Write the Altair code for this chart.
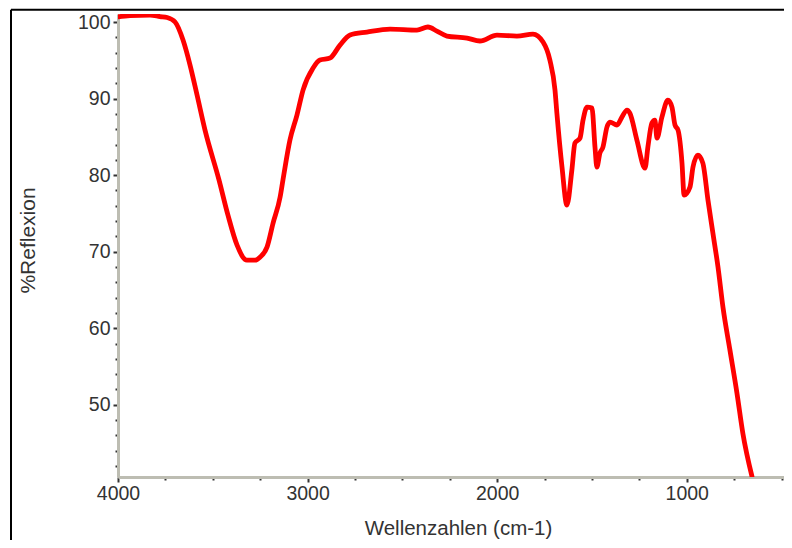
import altair as alt
import pandas as pd

# ---- data ----
wavenumbers = [4000, 3937, 3831, 3778, 3741, 3699, 3657, 3620, 3583, 3541,
               3467, 3420, 3372, 3320, 3277, 3251, 3214, 3182, 3145,
               3130, 3093, 3056, 3024, 2971, 2935, 2882, 2829, 2776, 2687,
               2565, 2423, 2365, 2318, 2265, 2159, 2091, 2001, 1896, 1811,
               1758, 1722, 1695, 1685, 1658, 1632, 1606, 1590, 1563, 1547,
               1526, 1500, 1484, 1474, 1458, 1442, 1421, 1405, 1368, 1342,
               1315, 1300, 1263, 1220, 1205, 1184, 1168, 1157, 1131, 1099,
               1078, 1062, 1046, 1025, 1014, 983, 967, 941, 915, 888,
               862, 835, 809, 772, 735, 704, 656]
reflexion = [100.69, 100.85, 100.92, 100.72, 100.59, 100.0, 97.65, 94.38, 90.46, 85.88,
             79.35, 74.77, 70.85, 68.89, 68.89, 69.28, 70.59, 73.73, 77.12,
             79.35, 84.58, 87.84, 91.11, 93.99, 95.03, 95.29, 96.99, 98.30, 98.69,
             99.08, 98.95, 99.35, 98.82, 98.17, 97.91, 97.52, 98.30, 98.17, 98.43,
             97.39, 95.03, 91.11, 88.10, 81.05, 76.08, 80.65, 84.18, 84.84, 87.19,
             88.89, 88.76, 83.66, 81.05, 82.88, 83.66, 86.27, 86.93, 86.54, 87.58,
             88.50, 88.10, 84.58, 80.92, 83.66, 86.80, 87.19, 84.84, 87.58, 89.80,
             88.89, 86.54, 85.88, 81.57, 77.39, 78.43, 81.05, 82.61, 81.57, 76.73,
             72.42, 67.97, 62.75, 57.12, 51.50, 46.27, 40.65]

x_tick_values = [4000, 3750, 3500, 3250, 3000, 2750, 2500, 2250, 2000,
                 1750, 1500, 1250, 1000, 750, 500]
y_tick_values = [42, 44, 46, 48, 50, 52, 54, 56, 58, 60, 62, 64, 66, 68, 70,
                 72, 74, 76, 78, 80, 82, 84, 86, 88, 90, 92, 94, 96, 98, 100]

x_title = "Wellenzahlen (cm-1)"
y_title = "%Reflexion"

# ---- layout / style ----
W, H = 666, 463
X_DOMAIN = [4000, 487]
Y_DOMAIN = [40.56, 101.05]
FONT = "Liberation Sans"
TEXT = "#333333"
AXIS_LINE = "#bdbdb2"

df = pd.DataFrame({"w": wavenumbers, "r": reflexion})

x_axis = alt.Axis(
    values=x_tick_values,
    labelExpr="datum.value % 1000 === 0 ? datum.value : ''",
    tickSize={"condition": {"test": "datum.value % 1000 === 0", "value": 5}, "value": 3},
    tickWidth=2,
    tickColor=TEXT,
    labelPadding=2,
    labelFont=FONT, labelFontSize=19.5, labelColor=TEXT,
    title=x_title, titleFont=FONT, titleFontSize=20.5, titleColor=TEXT,
    titleFontWeight="normal", titleBaseline="middle", titleY=51, titleX=340,
    domainColor=AXIS_LINE, domainWidth=3, grid=False, labelFlush=False,
)
y_axis = alt.Axis(
    values=y_tick_values,
    labelExpr="datum.value % 10 === 0 ? datum.value : ''",
    tickSize={"condition": {"test": "datum.value % 10 === 0", "value": 5}, "value": 3},
    tickWidth=2,
    tickColor=TEXT,
    labelPadding=3,
    labelFont=FONT, labelFontSize=19.5, labelColor=TEXT,
    title=y_title, titleFont=FONT, titleFontSize=21, titleColor=TEXT,
    titleFontWeight="normal", titleX=-89.5, titleY=226, titleAlign="center",
    titleBaseline="middle", titleAngle=270,
    domainColor=AXIS_LINE, domainWidth=3, grid=False, labelFlush=False,
)

line = alt.Chart(df).mark_line(
    color="#ff0000", strokeWidth=4.8, strokeJoin="round", strokeCap="round",
    interpolate="monotone", clip=True
).encode(
    x=alt.X("w:Q", scale=alt.Scale(domain=X_DOMAIN, nice=False, zero=False), axis=x_axis),
    y=alt.Y("r:Q", scale=alt.Scale(domain=Y_DOMAIN, nice=False, zero=False), axis=y_axis),
    order=alt.Order("w:Q", sort="descending"),
)

one = alt.Data(values=[{"k": 1}])
frame_top = alt.Chart(one).mark_rule(color="black", strokeWidth=2).encode(
    x=alt.value(-107), x2=alt.value(W + 10), y=alt.value(-4.3)
)
frame_left = alt.Chart(one).mark_rule(color="black", strokeWidth=2).encode(
    x=alt.value(-107), y=alt.value(-4.3), y2=alt.value(530)
)

chart = alt.layer(line, frame_top, frame_left).properties(
    width=W, height=H,
    padding={"left": 110, "top": 6, "right": 0, "bottom": 63},
    autosize=alt.AutoSizeParams(type="none"),
    background="white",
).configure_view(stroke="transparent")

chart.save("out.html", embed_options={"renderer": "svg", "actions": False})
